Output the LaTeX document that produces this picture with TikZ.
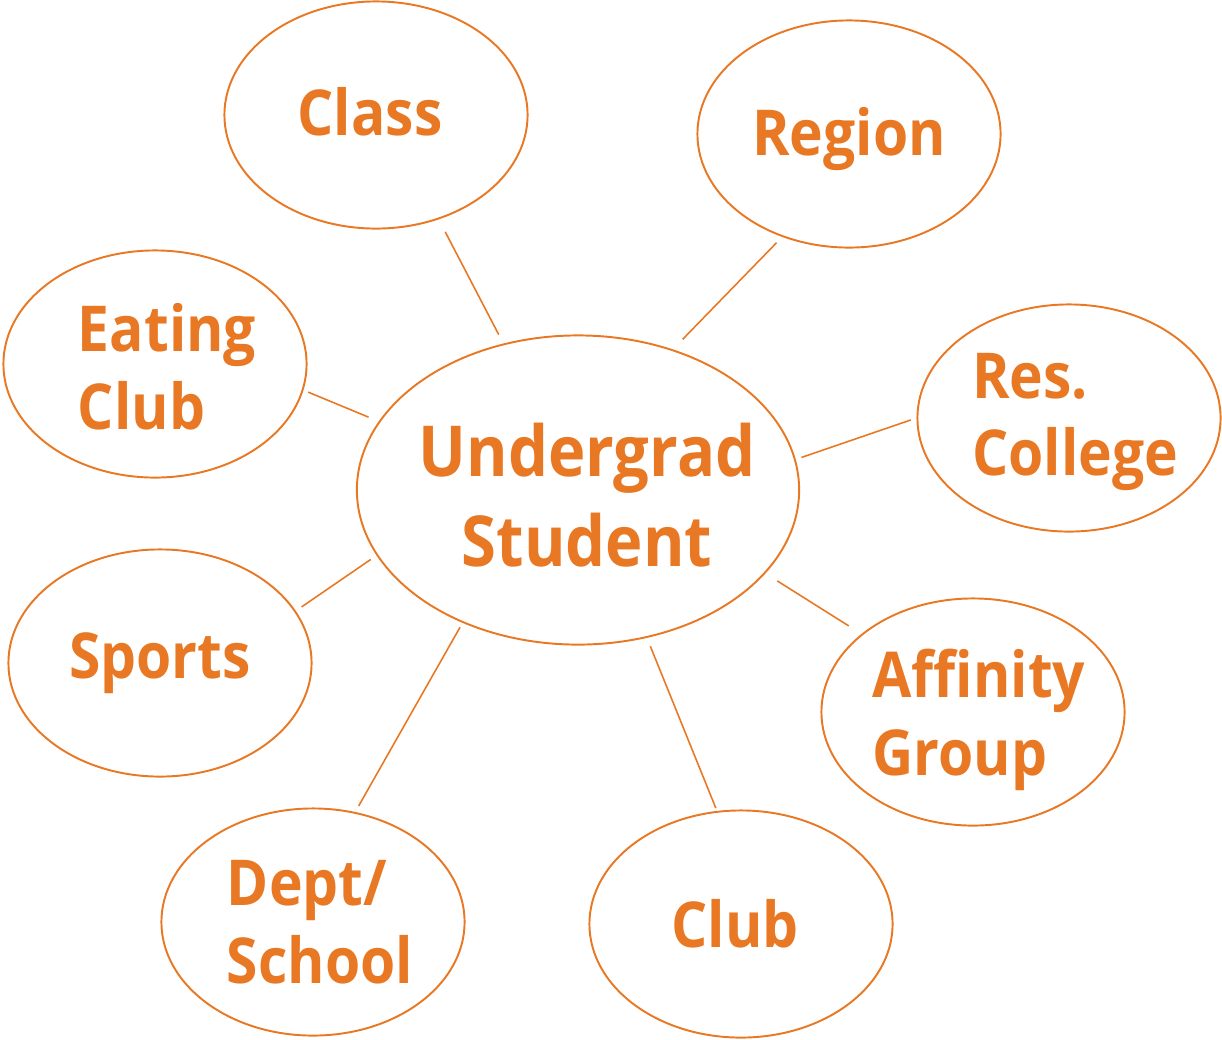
\documentclass[tikz,border=0pt]{standalone}
\usepackage{fontspec}
\setmainfont[FakeStretch=0.9]{Open Sans}
\usepackage{tikz}
\usetikzlibrary{shapes.geometric}
\definecolor{tigerorange}{RGB}{232,120,35}

\begin{document}
\begin{tikzpicture}[x=0.01cm,y=-0.01cm,bubble/.style={draw=tigerorange,ellipse,line width=0.55pt,inner sep=0pt,minimum width=3.03cm,minimum height=2.27cm}, hub/.style={bubble,minimum width=4.42cm,minimum height=3.09cm}, tag/.style={text=tigerorange,font=\fontsize{18}{22.1}\selectfont\bfseries,align=left,inner sep=0pt}, hubtag/.style={tag,font=\fontsize{20}{25.6}\selectfont\bfseries,align=center}, link/.style={draw=tigerorange,line width=0.45pt}]
        \useasboundingbox (0,0) rectangle (1222,1039);

        \node[hub,label={[hubtag,xshift=0.09cm,yshift=-0.05cm]center:Undergrad\\Student}] (stu) at (578,490) {};

        \node[bubble,label={[tag,xshift=-0.06cm,yshift=0.03cm]center:Class}] (cls) at (376,115) {};
        \node[bubble,label={[tag,yshift=-0.05cm]center:Region}] (reg) at (849,134) {};
        \node[bubble,label={[tag,xshift=0.12cm,yshift=-0.03cm]center:Eating\\Club}] (eat) at (155,364) {};
        \node[bubble,label={[tag,xshift=0.06cm,yshift=-0.04cm]center:Res.\\College}] (res) at (1069,418) {};
        \node[bubble,label={[tag]center:Sports}] (spo) at (160,663) {};
        \node[bubble,label={[tag,xshift=0.06cm,yshift=-0.08cm]center:Affinity\\Group}] (aff) at (973,712) {};
        \node[bubble,label={[tag,xshift=0.07cm]center:Dept/\\School}] (dep) at (313,922) {};
        \node[bubble,label={[tag,xshift=-0.06cm]center:Club}] (clb) at (741,924) {};

        \path (cls.-59) edge[link,shorten <=0.14cm,shorten >=0.10cm] (stu.117);
        \path (reg.-123) edge[link,shorten <=0.08cm,shorten >=0.14cm] (stu.56);
        \path (eat.-10) edge[link,shorten <=0.05cm,shorten >=0.11cm] (stu.161);
        \path (res.180) edge[link,shorten <=0.06cm,shorten >=0.06cm] (stu.8);
        \path (spo.21) edge[link,shorten <=0.07cm,shorten >=0.07cm] (stu.198);
        \path (aff.145) edge[link,shorten <=0.15cm,shorten >=0.14cm] (stu.-24);
        \path (dep.69) edge[link,shorten <=0.07cm,shorten >=0.05cm] (stu.-131);
        \path (clb.102) edge[link,shorten <=0.03cm,shorten >=0.09cm] (stu.-65);
\end{tikzpicture}
\end{document}
